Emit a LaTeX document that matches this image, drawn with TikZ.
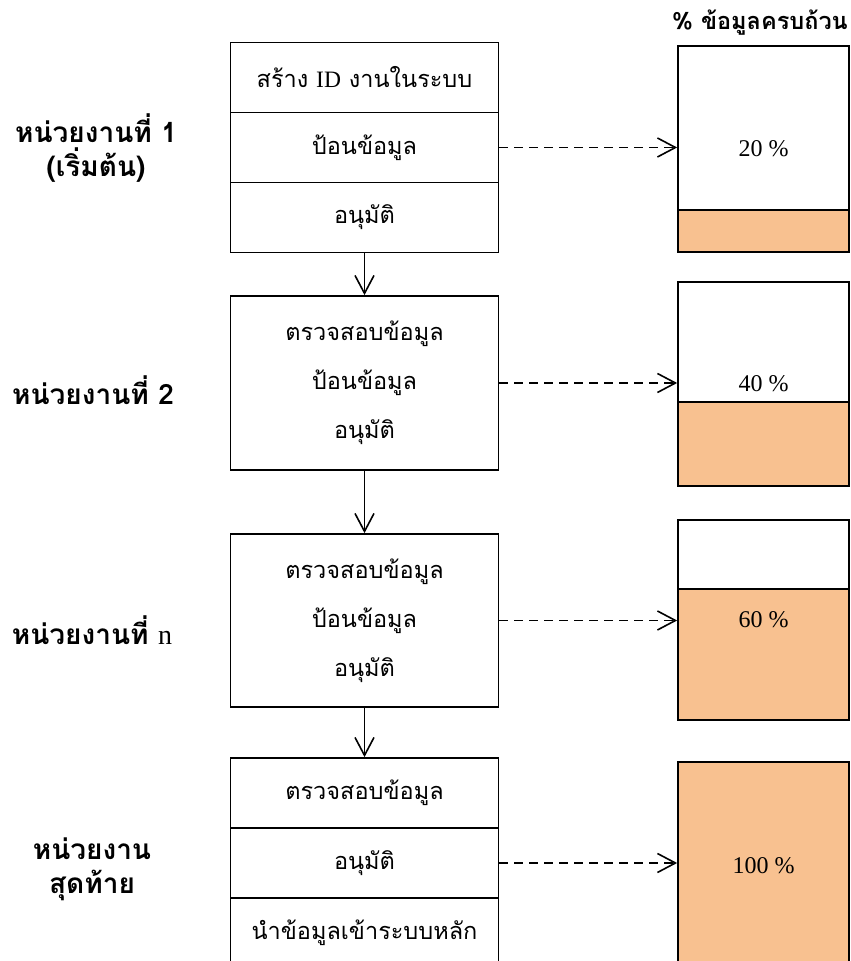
\documentclass[tikz,border=0pt]{standalone}
\usepackage{fontspec}
\usetikzlibrary{arrows.meta}
\newfontfamily\thaifont[Script=Thai]{Loma}
\newfontfamily\romanfont{Liberation Serif}
\definecolor{peach}{RGB}{248,193,144}
\tikzset{
  stage/.style={draw, line width=1.7pt, minimum width=268pt, inner sep=0pt, align=center,
    font=\thaifont\fontsize{23.5}{49}\selectfont},
  tank/.style={draw, line width=1.7pt, minimum width=171pt, inner sep=0pt,
    font=\romanfont\fontsize{24}{28}\selectfont,
    path picture={\fill[peach] (path picture bounding box.south west) rectangle ([yshift=#1]path picture bounding box.south east);
      \draw[line width=1.7pt] ([yshift=#1]path picture bounding box.south west) -- ([yshift=#1]path picture bounding box.south east);}},
  unit/.style={align=center, font=\thaifont\bfseries\fontsize{28}{34}\selectfont},
  flow/.style={-{Straight Barb[length=18pt,width=19pt]}, line width=1.6pt},
  feed/.style={flow, dash pattern=on 9pt off 6pt},
}
\begin{document}
\begin{tikzpicture}[x=1pt,y=1pt]
\useasboundingbox (0,0) rectangle (851,961);
\clip (0,0) rectangle (851,961);
\node[font=\thaifont\bfseries\fontsize{23.5}{28}\selectfont] (head) at (760,938) {\% ข้อมูลครบถ้วน};
\node[unit] (u1) at (96,813) {หน่วยงานที่ 1\\(เริ่มต้น)};
\node[unit] (u2) at (93,571) {หน่วยงานที่ 2};
\node[unit] (u3) at (92,331) {หน่วยงานที่ {\romanfont\mdseries n}};
\node[unit] (u4) at (92,92) {หน่วยงาน\\สุดท้าย};
\node[stage, minimum height=70pt] (s1a) at (364.5,883.5) {สร้าง {\romanfont ID} งานในระบบ};
\node[stage, minimum height=70pt] (s1b) at (364.5,813.5) {ป้อนข้อมูล};
\node[stage, minimum height=70pt] (s1c) at (364.5,743.5) {อนุมัติ};
\node[stage, minimum height=174pt] (s2) at (364.5,578) {ตรวจสอบข้อมูล\\ป้อนข้อมูล\\อนุมัติ};
\node[stage, minimum height=173pt] (s3) at (364.5,340.5) {ตรวจสอบข้อมูล\\ป้อนข้อมูล\\อนุมัติ};
\node[stage, minimum height=70pt] (s4a) at (364.5,168) {ตรวจสอบข้อมูล};
\node[stage, minimum height=70pt] (s4b) at (364.5,98) {อนุมัติ};
\node[stage, minimum height=70pt] (s4c) at (364.5,28) {นำข้อมูลเข้าระบบหลัก};
\node[tank=42pt, minimum height=206pt] (b1) at (763.5,812) {20 \%};
\node[tank=84pt, minimum height=204pt] (b2) at (763.5,577) {40 \%};
\node[tank=131pt, minimum height=200pt] (b3) at (763.5,341) {60 \%};
\node[tank=208pt, minimum height=208pt] (b4) at (763.5,95) {100 \%};
\draw[flow] (s1c) -- (s2);
\draw[flow] (s2) -- (s3);
\draw[flow] (s3) -- (s4a);
\draw[feed] (s1b.east) -- (s1b.east -| b1.west);
\draw[feed] (s2.east) -- (s2.east -| b2.west);
\draw[feed] (s3.east) -- (s3.east -| b3.west);
\draw[feed] (s4b.east) -- (s4b.east -| b4.west);
\end{tikzpicture}
\end{document}
